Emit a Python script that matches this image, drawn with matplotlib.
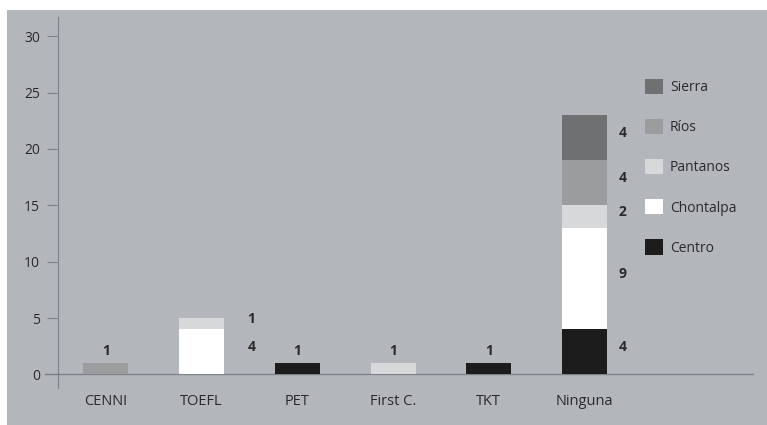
import matplotlib
matplotlib.use("Agg")
import matplotlib.pyplot as plt
from matplotlib.patches import Rectangle, Patch
import numpy as np

categories = ['CENNI', 'TOEFL', 'PET', 'First C.', 'TKT', 'Ninguna']
series_names = ['Centro', 'Chontalpa', 'Pantanos', 'Ríos', 'Sierra']
centro = [0, 0, 1, 0, 1, 4]
chontalpa = [0, 4, 0, 0, 0, 9]
pantanos = [0, 1, 0, 1, 0, 2]
rios = [1, 0, 0, 0, 0, 4]
sierra = [0, 0, 0, 0, 0, 4]
yticks = [0, 5, 10, 15, 20, 25, 30]

series = [centro, chontalpa, pantanos, rios, sierra]
colors = ['#1c1c1c', '#ffffff', '#d6d8da', '#9a9c9e', '#6e7072']
bg = '#b3b7bc'
axis_col = '#7c8288'
txt_col = '#2a2a2a'

plt.rcParams['font.family'] = ['Open Sans', 'DejaVu Sans']

fig = plt.figure(figsize=(7.67, 4.25), dpi=100)
fig.patch.set_facecolor('white')
fig.patches.append(Rectangle((7/767, 0), 1 - 7/767, 1 - 10/425,
                             transform=fig.transFigure, facecolor=bg,
                             edgecolor='none', zorder=-10))

ax = fig.add_axes([58/767, 1 - 388/425, (753 - 58)/767, (388 - 17)/425])
ax.set_facecolor('none')
x = np.arange(len(categories))
width = 0.47
bottom = np.zeros(len(categories))
for name, vals, c in zip(series_names, series, colors):
    v = np.array(vals, dtype=float)
    ax.bar(x, v, width, bottom=bottom, color=c, label=name, zorder=3)
    bottom += v

# value labels
totals = bottom
for i in range(len(categories)):
    nz = [(k, series[k][i]) for k in range(len(series)) if series[k][i] > 0]
    if len(nz) == 1:
        ax.text(x[i], totals[i] + 0.5, str(nz[0][1]), ha='center', va='bottom',
                fontsize=10, fontweight='bold', color=txt_col)
    else:
        off = 0.52 if categories[i] == 'TOEFL' else 0.40
        b = 0
        for k in range(len(series)):
            v = series[k][i]
            if v > 0:
                ax.text(x[i] + off, b + v / 2 + 0.4, str(v), ha='center', va='center',
                        fontsize=10, fontweight='bold', color=txt_col)
                b += v

ax.set_xlim(-0.5, 6.76)
ax.set_ylim(-1.2, 31.7)
for s in ['top', 'right', 'bottom']:
    ax.spines[s].set_visible(False)
ax.spines['left'].set_color(axis_col)
ax.axhline(0, xmin=-0.018, xmax=1, color=axis_col, lw=1, clip_on=False, zorder=2)
ax.set_yticks(yticks)
ax.set_xticks(x)
ax.set_xticklabels(categories)
ax.tick_params(axis='y', length=8, color=axis_col, width=0.8, pad=5,
               labelsize=10, labelcolor=txt_col)
ax.tick_params(axis='x', length=0, pad=4, labelsize=10.5, labelcolor=txt_col)

handles = [Patch(facecolor=c, edgecolor='none', label=n)
           for n, c in zip(series_names, colors)][::-1]
leg = ax.legend(handles=handles, loc='upper left',
                bbox_to_anchor=(645/767, 1 - 79/425), bbox_transform=fig.transFigure,
                frameon=False, fontsize=10, handlelength=1.3, handleheight=1.3,
                labelspacing=1.72, handletextpad=0.5, borderpad=0, borderaxespad=0)
for t in leg.get_texts():
    t.set_color(txt_col)

fig.savefig('out.png', dpi=100, facecolor=fig.get_facecolor())
